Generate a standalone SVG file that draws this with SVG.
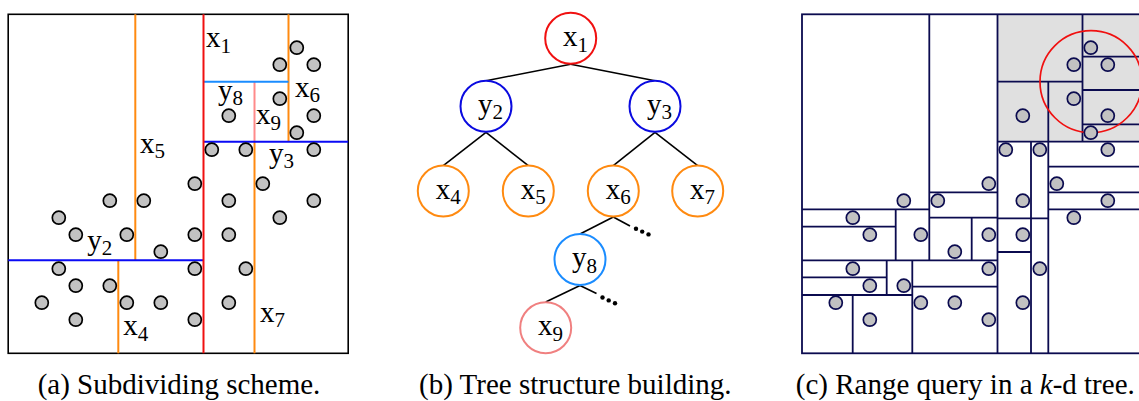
<svg xmlns="http://www.w3.org/2000/svg" xmlns:xlink="http://www.w3.org/1999/xlink" width="1139" height="401" viewBox="0 0 1139 401">
<style>
text{font-family:"Liberation Serif","Times New Roman",serif;fill:#000}
.lbl{font-size:29px}
.sub{font-size:21px}
.cap{font-size:29px}
.pt{fill:#c2c2c2;stroke-width:1.7}
.frame{fill:none;stroke:#000;stroke-width:1.6}
.kd{fill:none;stroke:#0b0b4f;stroke-width:1.8}
.node{fill:#fff;stroke-width:2}
.edge{stroke:#000;stroke-width:1.6;fill:none}
</style>
<defs>
<g id="pts" class="pt">
<circle cx="296.8" cy="47.7" r="6.5"/><circle cx="279.8" cy="64.7" r="6.5"/><circle cx="313.8" cy="64.7" r="6.5"/><circle cx="279.8" cy="98.7" r="6.5"/><circle cx="228.8" cy="115.7" r="6.5"/><circle cx="313.8" cy="115.7" r="6.5"/><circle cx="296.8" cy="132.7" r="6.5"/><circle cx="211.8" cy="149.7" r="6.5"/><circle cx="245.8" cy="149.7" r="6.5"/><circle cx="313.8" cy="149.7" r="6.5"/>
<circle cx="194.8" cy="183.7" r="6.5"/><circle cx="262.8" cy="183.7" r="6.5"/><circle cx="109.8" cy="200.7" r="6.5"/><circle cx="143.8" cy="200.7" r="6.5"/><circle cx="228.8" cy="200.7" r="6.5"/><circle cx="313.8" cy="200.7" r="6.5"/><circle cx="58.8" cy="217.7" r="6.5"/><circle cx="279.8" cy="217.7" r="6.5"/><circle cx="75.8" cy="234.7" r="6.5"/><circle cx="126.8" cy="234.7" r="6.5"/><circle cx="194.8" cy="234.7" r="6.5"/><circle cx="228.8" cy="234.7" r="6.5"/><circle cx="160.8" cy="251.7" r="6.5"/><circle cx="58.8" cy="268.7" r="6.5"/><circle cx="194.8" cy="268.7" r="6.5"/><circle cx="245.8" cy="268.7" r="6.5"/><circle cx="75.8" cy="285.7" r="6.5"/><circle cx="109.8" cy="285.7" r="6.5"/><circle cx="41.8" cy="302.7" r="6.5"/><circle cx="126.8" cy="302.7" r="6.5"/><circle cx="160.8" cy="302.7" r="6.5"/><circle cx="228.8" cy="302.7" r="6.5"/><circle cx="75.8" cy="319.7" r="6.5"/><circle cx="194.8" cy="319.7" r="6.5"/>
</g>
</defs>
<rect width="1139" height="401" fill="#fff"/>

<!-- Panel (a) -->
<g id="panel-a">
<rect class="frame" x="8.2" y="14.3" width="340" height="339"/>
<g fill="none" stroke-width="2">
<line x1="135.3" y1="14.3" x2="135.3" y2="260.3" stroke="#ff8a10"/>
<line x1="118.3" y1="260.3" x2="118.3" y2="353.3" stroke="#ff8a10"/>
<line x1="288.5" y1="14.3" x2="288.5" y2="141.7" stroke="#ff8a10"/>
<line x1="254.5" y1="141.7" x2="254.5" y2="353.3" stroke="#ff8a10"/>
<line x1="254.5" y1="81.7" x2="254.5" y2="141.7" stroke="#ff8a8a"/>
<line x1="203.5" y1="81.7" x2="288.5" y2="81.7" stroke="#1a8cff"/>
<line x1="8.2" y1="260.3" x2="203.5" y2="260.3" stroke="#0a0af5"/>
<line x1="203.5" y1="141.7" x2="348.2" y2="141.7" stroke="#0a0af5"/>
<line x1="203.5" y1="14.3" x2="203.5" y2="353.3" stroke="#f01010"/>
</g>
<use xlink:href="#pts" href="#pts" stroke="#000"/>
<text class="lbl" x="206" y="47">x<tspan class="sub" dy="6">1</tspan></text>
<text class="lbl" x="218" y="99.5">y<tspan class="sub" dy="5">8</tspan></text>
<text class="lbl" x="256" y="124">x<tspan class="sub" dy="6">9</tspan></text>
<text class="lbl" x="295" y="96.5">x<tspan class="sub" dy="5">6</tspan></text>
<text class="lbl" x="140" y="153">x<tspan class="sub" dy="5">5</tspan></text>
<text class="lbl" x="269" y="163">y<tspan class="sub" dy="5">3</tspan></text>
<text class="lbl" x="87.3" y="249.5">y<tspan class="sub" dy="5">2</tspan></text>
<text class="lbl" x="123.3" y="335">x<tspan class="sub" dy="6">4</tspan></text>
<text class="lbl" x="260" y="321.5">x<tspan class="sub" dy="5">7</tspan></text>
<text class="cap" x="179" y="394" text-anchor="middle">(a) Subdividing scheme.</text>
</g>

<!-- Panel (b) tree -->
<g id="connectors" class="edge">
<line x1="570.7" y1="64.3" x2="486" y2="80.7"/>
<line x1="570.7" y1="64.3" x2="655" y2="80.7"/>
<line x1="486" y1="132.3" x2="443.3" y2="165.7"/>
<line x1="486" y1="132.3" x2="528.3" y2="165.7"/>
<line x1="655" y1="132.3" x2="613.3" y2="165.7"/>
<line x1="655" y1="132.3" x2="697.7" y2="165.7"/>
<line x1="613.3" y1="217" x2="580" y2="234"/>
<line x1="613.3" y1="217" x2="630" y2="226"/>
<line x1="580" y1="285.5" x2="545.7" y2="302"/>
<line x1="580" y1="285.5" x2="596.5" y2="293.5"/>
<g fill="#000" stroke="none">
<circle cx="636" cy="228.8" r="2.2"/><circle cx="642.2" cy="231.6" r="2.2"/><circle cx="648.5" cy="234.4" r="2.2"/>
<circle cx="602.5" cy="297.5" r="2.2"/><circle cx="608.7" cy="300.4" r="2.2"/><circle cx="615" cy="303.3" r="2.2"/>
</g>
</g>
<g id="node-x1"><circle class="node" cx="570.7" cy="38.3" r="25.5" stroke="#f01010"/><text class="lbl" x="563" y="46">x<tspan class="sub" dy="5.5">1</tspan></text></g>
<g id="node-y2"><circle class="node" cx="486" cy="106.3" r="25.5" stroke="#0a0ae0"/><text class="lbl" x="478" y="113.5">y<tspan class="sub" dy="5.5">2</tspan></text></g>
<g id="node-y3"><circle class="node" cx="655" cy="106.3" r="25.5" stroke="#0a0ae0"/><text class="lbl" x="647" y="113.5">y<tspan class="sub" dy="5.5">3</tspan></text></g>
<g id="node-x4"><circle class="node" cx="443.3" cy="191" r="25.5" stroke="#ff8a10"/><text class="lbl" x="435.7" y="198.5">x<tspan class="sub" dy="5.5">4</tspan></text></g>
<g id="node-x5"><circle class="node" cx="528.3" cy="191" r="25.5" stroke="#ff8a10"/><text class="lbl" x="520.7" y="198.5">x<tspan class="sub" dy="5.5">5</tspan></text></g>
<g id="node-x6"><circle class="node" cx="613.3" cy="191" r="25.5" stroke="#ff8a10"/><text class="lbl" x="605.7" y="198.5">x<tspan class="sub" dy="5.5">6</tspan></text></g>
<g id="node-x7"><circle class="node" cx="697.7" cy="191" r="25.5" stroke="#ff8a10"/><text class="lbl" x="690" y="198.5">x<tspan class="sub" dy="5.5">7</tspan></text></g>
<g id="node-y8"><circle class="node" cx="580" cy="259.5" r="25.5" stroke="#1a8cff"/><text class="lbl" x="572" y="267">y<tspan class="sub" dy="5.5">8</tspan></text></g>
<g id="node-x9"><circle class="node" cx="545.7" cy="327.7" r="25.5" stroke="#f08080"/><text class="lbl" x="538" y="335">x<tspan class="sub" dy="5.5">9</tspan></text></g>
<text class="cap" x="575.3" y="394" text-anchor="middle">(b) Tree structure building.</text>

<!-- Panel (c) -->
<g id="panel-c">
<rect x="997.5" y="14.3" width="145" height="127.4" fill="#e0e0e0"/>
<rect class="kd" x="802" y="14.3" width="340" height="339"/>
<path class="kd" d="M997.5 81.7H1082.5M1082.5 56.7H1142M1082.5 90H1142M1082.5 124.3H1142M997.5 141.7H1142M1048.3 166.7H1142M1048.3 192.3H1142M1048.3 209.3H1142M997.5 218.3H1048.3M997.5 252H1031M929.3 192.3H997.5M929.3 217.7H997.5M802 209.3H929.3M802 226.7H895.7M802 260.3H997.5M802 277.3H886.7M802 295H912.3M912.3 286.7H997.5M929.3 14.3V260.3M997.5 14.3V353.3M1082.5 14.3V141.7M1048.3 81.7V353.3M1031 141.7V353.3M895.7 209.3V260.3M971.7 217.7V260.3M886.7 260.3V295M912.3 260.3V353.3M852.7 295V353.3"/>
<circle cx="1091" cy="81.7" r="51" fill="none" stroke="#f01010" stroke-width="1.7"/>
<use xlink:href="#pts" href="#pts" x="794" stroke="#0b0b4f"/>
<text class="cap" x="965.3" y="394" text-anchor="middle">(c) Range query in a <tspan font-style="italic">k</tspan>-d tree.</text>
</g>
</svg>
